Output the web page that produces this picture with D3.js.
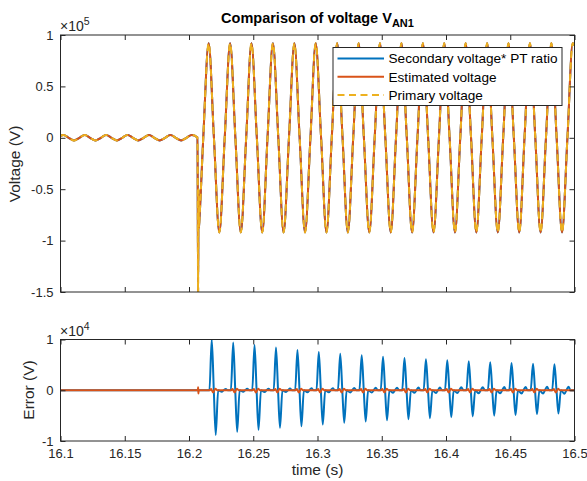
<!DOCTYPE html>
<html><head><meta charset="utf-8">
<script src="https://cdn.jsdelivr.net/npm/d3@7"></script>
<style>body{margin:0;background:#fff;} svg{display:block;font-family:"Liberation Sans",Arial,Helvetica,sans-serif;}</style>
</head><body><svg id="c" width="587" height="481"></svg>
<script>
// ---------- data ----------
const xTicks = [16.1, 16.15, 16.2, 16.25, 16.3, 16.35, 16.4, 16.45, 16.5];
const xTickLabels = ["16.1", "16.15", "16.2", "16.25", "16.3", "16.35", "16.4", "16.45", "16.5"];
const vTicks = [-150000, -100000, -50000, 0, 50000, 100000];
const vTickLabels = ["-1.5", "-1", "-0.5", "0", "0.5", "1"];
const eTicks = [-10000, 0, 10000];
const eTickLabels = ["-1", "0", "1"];
const legendLabels = ["Secondary voltage* PT ratio", "Estimated voltage", "Primary voltage"];

// voltage waveform (time in s, value in V)
const voltT = [
16.1000,16.1022,16.1064,16.1105,16.1147,16.1189,16.1230,16.1272,16.1314,16.1355,
16.1397,16.1439,16.1480,16.1522,16.1564,16.1605,16.1647,16.1689,16.1730,16.1772,
16.1814,16.1855,16.1897,16.1939,16.1980,16.2022,
16.2066,16.2071,16.2074,16.2077,16.2080,16.2111,
16.2153,16.2194,16.2236,16.2278,16.2320,16.2361,16.2403,16.2445,16.2486,16.2528,
16.2570,16.2611,16.2653,16.2695,16.2736,16.2778,16.2820,16.2861,16.2903,16.2945,
16.2986,16.3028,16.3070,16.3111,16.3153,16.3195,16.3236,16.3278,16.3320,16.3361,
16.3403,16.3445,16.3486,16.3528,16.3570,16.3611,16.3653,16.3695,16.3736,16.3778,
16.3820,16.3861,16.3903,16.3945,16.3986,16.4028,16.4070,16.4111,16.4153,16.4195,
16.4236,16.4278,16.4320,16.4361,16.4403,16.4445,16.4486,16.4528,16.4570,16.4611,
16.4653,16.4695,16.4736,16.4778,16.4820,16.4861,16.4903,16.4945,16.4986,16.5000];
const primaryV = [
1800,2700,0,-2700,0,2700,0,-2700,0,2700,
0,-2700,0,2700,0,-2700,0,2700,0,-2700,
0,2700,0,-2700,0,2700,
300,-152000,-50000,-88000,-82000,0,
92000,0,-92000,0,92000,0,-92000,0,92000,0,
-92000,0,92000,0,-92000,0,92000,0,-92000,0,
92000,0,-92000,0,92000,0,-92000,0,92000,0,
-92000,0,92000,0,-92000,0,92000,0,-92000,0,
92000,0,-92000,0,92000,0,-92000,0,92000,0,
-92000,0,92000,0,-92000,0,92000,0,-92000,0,
92000,0,-92000,0,92000,0,-92000,0,92000,90000];
const secondaryV = primaryV;   // overlaps the primary trace at this scale
const estimatedV = primaryV;   // overlaps the primary trace at this scale

// error of secondary*PT ratio (blue)
const errBlueT = [16.1000,
16.2159,16.2177,16.2193,16.2208,16.2227,16.2255,16.2270,16.2286,16.2302,
16.2326,16.2344,16.2360,16.2375,16.2394,16.2422,16.2437,16.2453,16.2469,
16.2492,16.2510,16.2526,16.2541,16.2560,16.2588,16.2603,16.2619,16.2635,
16.2659,16.2677,16.2693,16.2708,16.2727,16.2755,16.2770,16.2786,16.2802,
16.2826,16.2844,16.2860,16.2875,16.2894,16.2922,16.2937,16.2953,16.2969,
16.2992,16.3010,16.3026,16.3041,16.3060,16.3088,16.3103,16.3119,16.3135,
16.3159,16.3177,16.3193,16.3208,16.3227,16.3255,16.3270,16.3286,16.3302,
16.3326,16.3344,16.3360,16.3375,16.3394,16.3422,16.3437,16.3453,16.3469,
16.3492,16.3510,16.3526,16.3541,16.3560,16.3588,16.3603,16.3619,16.3635,
16.3659,16.3677,16.3693,16.3708,16.3727,16.3755,16.3770,16.3786,16.3802,
16.3826,16.3844,16.3860,16.3875,16.3894,16.3922,16.3937,16.3953,16.3969,
16.3992,16.4010,16.4026,16.4041,16.4060,16.4088,16.4103,16.4119,16.4135,
16.4159,16.4177,16.4193,16.4208,16.4227,16.4255,16.4270,16.4286,16.4302,
16.4326,16.4344,16.4360,16.4375,16.4394,16.4422,16.4437,16.4453,16.4469,
16.4492,16.4510,16.4526,16.4541,16.4560,16.4588,16.4603,16.4619,16.4635,
16.4659,16.4677,16.4693,16.4708,16.4727,16.4755,16.4770,16.4786,16.4802,
16.4826,16.4844,16.4860,16.4875,16.4894,16.4922,16.4937,16.4953,16.4969,
16.5000];
const errBlueV = [0,
0,10000,0,-8800,0,-300,0,250,0,
0,9400,0,-8200,0,-300,0,300,0,
0,8900,0,-7800,0,-350,0,300,0,
0,8400,0,-7400,0,-350,0,350,0,
0,7950,0,-7100,0,-400,0,400,0,
0,7550,0,-6750,0,-400,0,400,0,
0,7200,0,-6400,0,-450,0,450,0,
0,6900,0,-6150,0,-450,0,500,0,
0,6600,0,-5900,0,-500,0,500,0,
0,6350,0,-5700,0,-500,0,550,0,
0,6100,0,-5500,0,-550,0,550,0,
0,5900,0,-5300,0,-550,0,600,0,
0,5700,0,-5150,0,-600,0,600,0,
0,5500,0,-5000,0,-600,0,650,0,
0,5350,0,-4900,0,-650,0,650,0,
0,5200,0,-4750,0,-650,0,700,0,
0,5100,0,-4600,0,-700,0,700,0,
0];

// error of estimated voltage (orange)
const errOrangeT = [16.1000,16.2069,16.2071,16.2073,16.2076,
16.2162,16.2172,16.2187,16.2205,16.2219,
16.2329,16.2339,16.2354,16.2372,16.2386,
16.2495,16.2505,16.2520,16.2538,16.2552,
16.2662,16.2672,16.2687,16.2705,16.2719,
16.2829,16.2839,16.2854,16.2872,16.2886,
16.2995,16.3005,16.3020,16.3038,16.3052,
16.3162,16.3172,16.3187,16.3205,16.3219,
16.3329,16.3339,16.3354,16.3372,16.3386,
16.3495,16.3505,16.3520,16.3538,16.3552,
16.3662,16.3672,16.3687,16.3705,16.3719,
16.3829,16.3839,16.3854,16.3872,16.3886,
16.3995,16.4005,16.4020,16.4038,16.4052,
16.4162,16.4172,16.4187,16.4205,16.4219,
16.4329,16.4339,16.4354,16.4372,16.4386,
16.4495,16.4505,16.4520,16.4538,16.4552,
16.4662,16.4672,16.4687,16.4705,16.4719,
16.4829,16.4839,16.4854,16.4872,16.4886,
16.5000];
const errOrangeV = [0,0,600,-650,0,
0,250,-450,300,0, 0,250,-450,300,0, 0,250,-450,300,0,
0,250,-450,300,0, 0,250,-450,300,0, 0,250,-450,300,0,
0,250,-450,300,0, 0,250,-450,300,0, 0,250,-450,300,0,
0,250,-450,300,0, 0,250,-450,300,0, 0,250,-450,300,0,
0,250,-450,300,0, 0,250,-450,300,0, 0,250,-450,300,0,
0,250,-450,300,0, 0,250,-450,300,0,
0];

// ---------- drawing ----------
const C_BLUE = "#0072BD", C_ORANGE = "#D95319", C_YELLOW = "#EDB120", C_AX = "#262626";
const svg = d3.select("#c");
svg.append("rect").attr("width", 587).attr("height", 481).attr("fill", "#fff");

const x = d3.scaleLinear().domain([16.1, 16.5]).range([60.5, 574.5]);
const yTop = d3.scaleLinear().domain([-150000, 100000]).range([292, 35]);
const yBot = d3.scaleLinear().domain([-10000, 10000]).range([441, 339.5]);

const defs = svg.append("defs");
function clip(id, y0, y1) {
  defs.append("clipPath").attr("id", id).append("rect")
    .attr("x", x.range()[0]).attr("y", y0).attr("width", x.range()[1] - x.range()[0]).attr("height", y1 - y0);
}
clip("clipTop", 35, 292);
clip("clipBot", 339.5, 441);

function zip(ts, vs) { return ts.map((t, i) => [t, vs[i]]); }

function drawAxes(y, yT, yL, showX) {
  const g = svg.append("g");
  const [r0, r1] = y.range();
  g.append("g").attr("transform", `translate(${x.range()[0]},0)`)
    .call(d3.axisLeft(y).tickValues(yT).tickFormat((d, i) => yL[i]).tickSizeInner(-5).tickSizeOuter(0).tickPadding(7));
  g.append("g").attr("transform", `translate(${x.range()[1]},0)`)
    .call(d3.axisRight(y).tickValues(yT).tickFormat("").tickSizeInner(-5).tickSizeOuter(0));
  g.append("g").attr("transform", `translate(0,${r0})`)
    .call(d3.axisBottom(x).tickValues(xTicks).tickFormat((d, i) => showX ? xTickLabels[i] : "").tickSizeInner(-5).tickSizeOuter(0).tickPadding(8));
  g.append("g").attr("transform", `translate(0,${r1})`)
    .call(d3.axisTop(x).tickValues(xTicks).tickFormat("").tickSizeInner(-5).tickSizeOuter(0));
  g.selectAll(".domain").remove();
  g.selectAll(".tick line").attr("stroke", C_AX).attr("stroke-width", 1);
  g.selectAll(".tick text").attr("fill", C_AX).attr("font-size", 13).attr("font-family", '"Liberation Sans",Arial,sans-serif');
  g.append("rect").attr("x", x.range()[0]).attr("y", r1).attr("width", x.range()[1] - x.range()[0]).attr("height", r0 - r1)
    .attr("fill", "none").attr("stroke", C_AX).attr("stroke-width", 1);
}

const line = (y) => d3.line().x(d => x(d[0])).y(d => y(d[1])).curve(d3.curveMonotoneX);

// top plot lines
const gTop = svg.append("g").attr("clip-path", "url(#clipTop)");
gTop.append("path").attr("d", line(yTop)(zip(voltT, secondaryV))).attr("fill", "none").attr("stroke", C_BLUE).attr("stroke-width", 2);
gTop.append("path").attr("d", line(yTop)(zip(voltT, estimatedV))).attr("fill", "none").attr("stroke", C_ORANGE).attr("stroke-width", 2);
gTop.append("path").attr("d", line(yTop)(zip(voltT, primaryV))).attr("fill", "none").attr("stroke", C_YELLOW).attr("stroke-width", 2).attr("stroke-dasharray", "7,4.5");
drawAxes(yTop, vTicks, vTickLabels, false);

// bottom plot lines
const gBot = svg.append("g").attr("clip-path", "url(#clipBot)");
gBot.append("path").attr("d", line(yBot)(zip(errBlueT, errBlueV))).attr("fill", "none").attr("stroke", C_BLUE).attr("stroke-width", 2);
gBot.append("path").attr("d", line(yBot)(zip(errOrangeT, errOrangeV))).attr("fill", "none").attr("stroke", C_ORANGE).attr("stroke-width", 2);
drawAxes(yBot, eTicks, eTickLabels, true);

// exponent labels
function expLabel(px, py, exp) {
  const t = svg.append("text").attr("x", px).attr("y", py).attr("fill", C_AX).attr("font-size", 14);
  t.append("tspan").text("\u00D710");
  t.append("tspan").attr("dy", -6).attr("font-size", 10.5).text(exp);
}
expLabel(60, 30.5, "5");
expLabel(60, 335.5, "4");

// title
const title = svg.append("text").attr("x", 317.5).attr("y", 23).attr("text-anchor", "middle")
  .attr("font-weight", "bold").attr("font-size", 14.5).attr("fill", "#000");
title.append("tspan").text("Comparison of voltage V");
title.append("tspan").attr("dy", 4).attr("font-size", 11).text("AN1");

// axis labels
svg.append("text").attr("transform", "translate(20,164) rotate(-90)").attr("text-anchor", "middle")
  .attr("font-size", 15.5).attr("fill", C_AX).text("Voltage (V)");
svg.append("text").attr("transform", "translate(34,390) rotate(-90)").attr("text-anchor", "middle")
  .attr("font-size", 15.5).attr("fill", C_AX).text("Error (V)");
svg.append("text").attr("x", 317.5).attr("y", 475).attr("text-anchor", "middle")
  .attr("font-size", 15.5).attr("fill", C_AX).text("time (s)");

// legend
const lg = svg.append("g");
lg.append("rect").attr("x", 333).attr("y", 47.5).attr("width", 229).attr("height", 58)
  .attr("fill", "#fff").attr("stroke", C_AX).attr("stroke-width", 1);
const legColors = [C_BLUE, C_ORANGE, C_YELLOW];
const rowY = d3.scalePoint().domain(legendLabels).range([58.5, 95]);
legendLabels.forEach((lab, i) => {
  const yy = rowY(lab);
  lg.append("line").attr("x1", 337.5).attr("x2", 384).attr("y1", yy).attr("y2", yy)
    .attr("stroke", legColors[i]).attr("stroke-width", 2).attr("stroke-dasharray", i === 2 ? "7,4.5" : null);
  lg.append("text").attr("x", 388.5).attr("y", yy).attr("dy", "0.35em").attr("font-size", 13.6).attr("fill", "#000").text(lab);
});
</script></body></html>
